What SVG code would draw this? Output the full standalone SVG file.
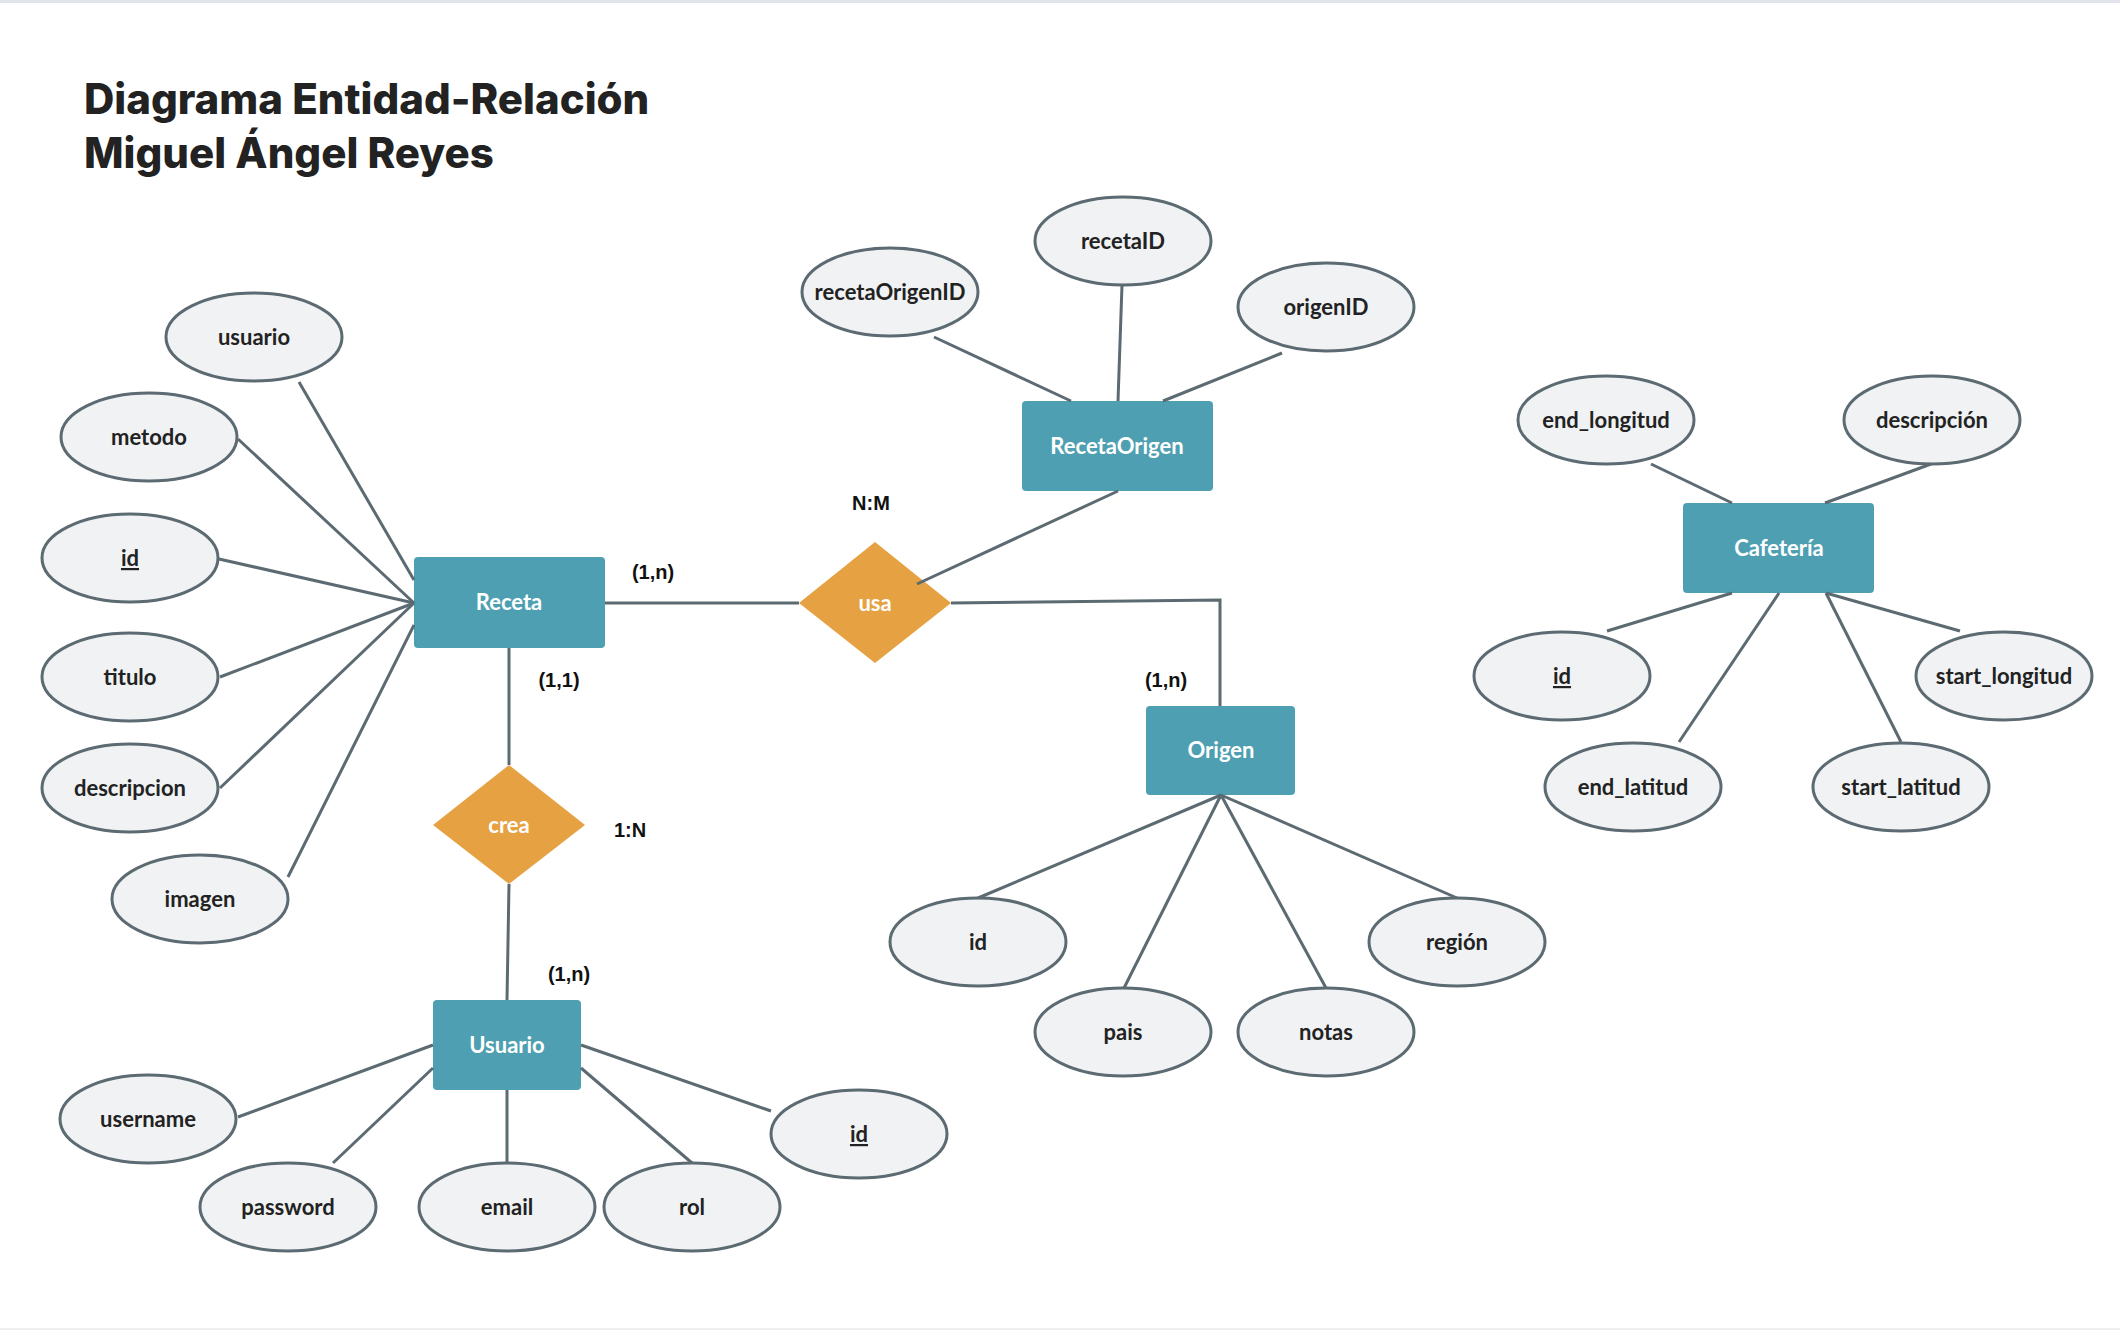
<svg xmlns="http://www.w3.org/2000/svg" width="2120" height="1330" viewBox="0 0 2120 1330">
<style>
.attr ellipse{fill:#f0f2f4;stroke:#5c6a72;stroke-width:3}
.attr text{font-family:Lato,"Open Sans",sans-serif;font-weight:700;font-size:22px;fill:#222;text-anchor:middle}
.ent rect{fill:#4f9fb2}
.ent text,.rel text{font-family:Lato,"Open Sans",sans-serif;font-weight:700;font-size:22px;fill:#ffffff;text-anchor:middle}
.rel polygon{fill:#e6a242}
.pk{text-decoration:underline}
#connectors line,#connectors polyline{stroke:#5c6a72;stroke-width:3;fill:none}
.card{font-family:"Liberation Sans",Arial,sans-serif;font-weight:700;font-size:20px;fill:#111;text-anchor:middle}
.title{font-family:Inter,"Liberation Sans",sans-serif;font-weight:800;font-size:42px;fill:#222}
</style>
<rect x="0" y="0" width="2120" height="1330" fill="#ffffff"/>
<line x1="0" y1="1.5" x2="2120" y2="1.5" stroke="#e1e4ea" stroke-width="3"/>
<line x1="0" y1="1329" x2="2120" y2="1329" stroke="#eeeeee" stroke-width="2"/>

<g id="title">
<text class="title" x="84" y="114">Diagrama Entidad-Relación</text>
<text class="title" x="84" y="168">Miguel Ángel Reyes</text>
</g>

<!-- Receta attributes -->
<g id="attr-receta-usuario" class="attr"><ellipse cx="254" cy="337" rx="88" ry="44"/><text x="254" y="345">usuario</text></g>
<g id="attr-receta-metodo" class="attr"><ellipse cx="149" cy="437" rx="88" ry="44"/><text x="149" y="445">metodo</text></g>
<g id="attr-receta-id" class="attr"><ellipse cx="130" cy="558" rx="88" ry="44"/><text class="pk" x="130" y="566">id</text></g>
<g id="attr-receta-titulo" class="attr"><ellipse cx="130" cy="677" rx="88" ry="44"/><text x="130" y="685">titulo</text></g>
<g id="attr-receta-descripcion" class="attr"><ellipse cx="130" cy="788" rx="88" ry="44"/><text x="130" y="796">descripcion</text></g>
<g id="attr-receta-imagen" class="attr"><ellipse cx="200" cy="899" rx="88" ry="44"/><text x="200" y="907">imagen</text></g>

<g id="receta" class="ent"><rect x="414" y="557" width="191" height="91" rx="4"/><text x="509" y="610">Receta</text></g>

<g id="usa" class="rel"><polygon points="875,542 951,603 875,663 799,603"/><text x="875" y="611">usa</text></g>
<g id="crea" class="rel"><polygon points="509,765 585,825 509,884 433,825"/><text x="509" y="833">crea</text></g>

<!-- RecetaOrigen -->
<g id="attr-ro-recetaOrigenID" class="attr"><ellipse cx="890" cy="292" rx="88" ry="44"/><text x="890" y="300">recetaOrigenID</text></g>
<g id="attr-ro-recetaID" class="attr"><ellipse cx="1123" cy="241" rx="88" ry="44"/><text x="1123" y="249">recetaID</text></g>
<g id="attr-ro-origenID" class="attr"><ellipse cx="1326" cy="307" rx="88" ry="44"/><text x="1326" y="315">origenID</text></g>
<g id="recetaorigen" class="ent"><rect x="1022" y="401" width="191" height="90" rx="4"/><text x="1117" y="454">RecetaOrigen</text></g>

<!-- Origen -->
<g id="origen" class="ent"><rect x="1146" y="706" width="149" height="89" rx="4"/><text x="1221" y="758">Origen</text></g>
<g id="attr-origen-id" class="attr"><ellipse cx="978" cy="942" rx="88" ry="44"/><text x="978" y="950">id</text></g>
<g id="attr-origen-pais" class="attr"><ellipse cx="1123" cy="1032" rx="88" ry="44"/><text x="1123" y="1040">pais</text></g>
<g id="attr-origen-notas" class="attr"><ellipse cx="1326" cy="1032" rx="88" ry="44"/><text x="1326" y="1040">notas</text></g>
<g id="attr-origen-region" class="attr"><ellipse cx="1457" cy="942" rx="88" ry="44"/><text x="1457" y="950">región</text></g>

<!-- Usuario -->
<g id="usuario" class="ent"><rect x="433" y="1000" width="148" height="90" rx="4"/><text x="507" y="1053">Usuario</text></g>
<g id="attr-usuario-username" class="attr"><ellipse cx="148" cy="1119" rx="88" ry="44"/><text x="148" y="1127">username</text></g>
<g id="attr-usuario-password" class="attr"><ellipse cx="288" cy="1207" rx="88" ry="44"/><text x="288" y="1215">password</text></g>
<g id="attr-usuario-email" class="attr"><ellipse cx="507" cy="1207" rx="88" ry="44"/><text x="507" y="1215">email</text></g>
<g id="attr-usuario-rol" class="attr"><ellipse cx="692" cy="1207" rx="88" ry="44"/><text x="692" y="1215">rol</text></g>
<g id="attr-usuario-id" class="attr"><ellipse cx="859" cy="1134" rx="88" ry="44"/><text class="pk" x="859" y="1142">id</text></g>

<!-- Cafeteria -->
<g id="cafeteria" class="ent"><rect x="1683" y="503" width="191" height="90" rx="4"/><text x="1779" y="556">Cafetería</text></g>
<g id="attr-caf-end_longitud" class="attr"><ellipse cx="1606" cy="420" rx="88" ry="44"/><text x="1606" y="428">end_longitud</text></g>
<g id="attr-caf-descripcion" class="attr"><ellipse cx="1932" cy="420" rx="88" ry="44"/><text x="1932" y="428">descripción</text></g>
<g id="attr-caf-id" class="attr"><ellipse cx="1562" cy="676" rx="88" ry="44"/><text class="pk" x="1562" y="684">id</text></g>
<g id="attr-caf-start_longitud" class="attr"><ellipse cx="2004" cy="676" rx="88" ry="44"/><text x="2004" y="684">start_longitud</text></g>
<g id="attr-caf-end_latitud" class="attr"><ellipse cx="1633" cy="787" rx="88" ry="44"/><text x="1633" y="795">end_latitud</text></g>
<g id="attr-caf-start_latitud" class="attr"><ellipse cx="1901" cy="787" rx="88" ry="44"/><text x="1901" y="795">start_latitud</text></g>

<g id="connectors">
<line x1="299" y1="382" x2="414" y2="580"/>
<line x1="238" y1="439" x2="414" y2="603"/>
<line x1="219" y1="559" x2="414" y2="603"/>
<line x1="220" y1="677" x2="414" y2="603"/>
<line x1="220" y1="788" x2="414" y2="603"/>
<line x1="288" y1="877" x2="414" y2="625"/>
<line x1="605" y1="603" x2="799" y2="603"/>
<line x1="509" y1="648" x2="509" y2="765"/>
<line x1="509" y1="884" x2="507" y2="1000"/>
<line x1="1118" y1="491" x2="917" y2="584"/>
<polyline points="951,603 1220,600 1220,706"/>
<line x1="934" y1="337" x2="1071" y2="401"/>
<line x1="1122" y1="285" x2="1118" y2="401"/>
<line x1="1282" y1="353" x2="1163" y2="401"/>
<line x1="1221" y1="795" x2="978" y2="898"/>
<line x1="1221" y1="795" x2="1124" y2="988"/>
<line x1="1221" y1="795" x2="1326" y2="988"/>
<line x1="1221" y1="795" x2="1457" y2="898"/>
<line x1="238" y1="1117" x2="433" y2="1045"/>
<line x1="333" y1="1163" x2="433" y2="1068"/>
<line x1="507" y1="1090" x2="507" y2="1163"/>
<line x1="692" y1="1163" x2="581" y2="1068"/>
<line x1="771" y1="1111" x2="581" y2="1045"/>
<line x1="1651" y1="464" x2="1732" y2="503"/>
<line x1="1931" y1="464" x2="1825" y2="503"/>
<line x1="1607" y1="631" x2="1732" y2="593"/>
<line x1="1679" y1="742" x2="1779" y2="593"/>
<line x1="1901" y1="742" x2="1826" y2="593"/>
<line x1="1960" y1="631" x2="1826" y2="593"/>
</g>

<g id="labels">
<text class="card" x="653" y="579">(1,n)</text>
<text class="card" x="559" y="687">(1,1)</text>
<text class="card" x="630" y="837">1:N</text>
<text class="card" x="871" y="510">N:M</text>
<text class="card" x="1166" y="687">(1,n)</text>
<text class="card" x="569" y="981">(1,n)</text>
</g>
</svg>
